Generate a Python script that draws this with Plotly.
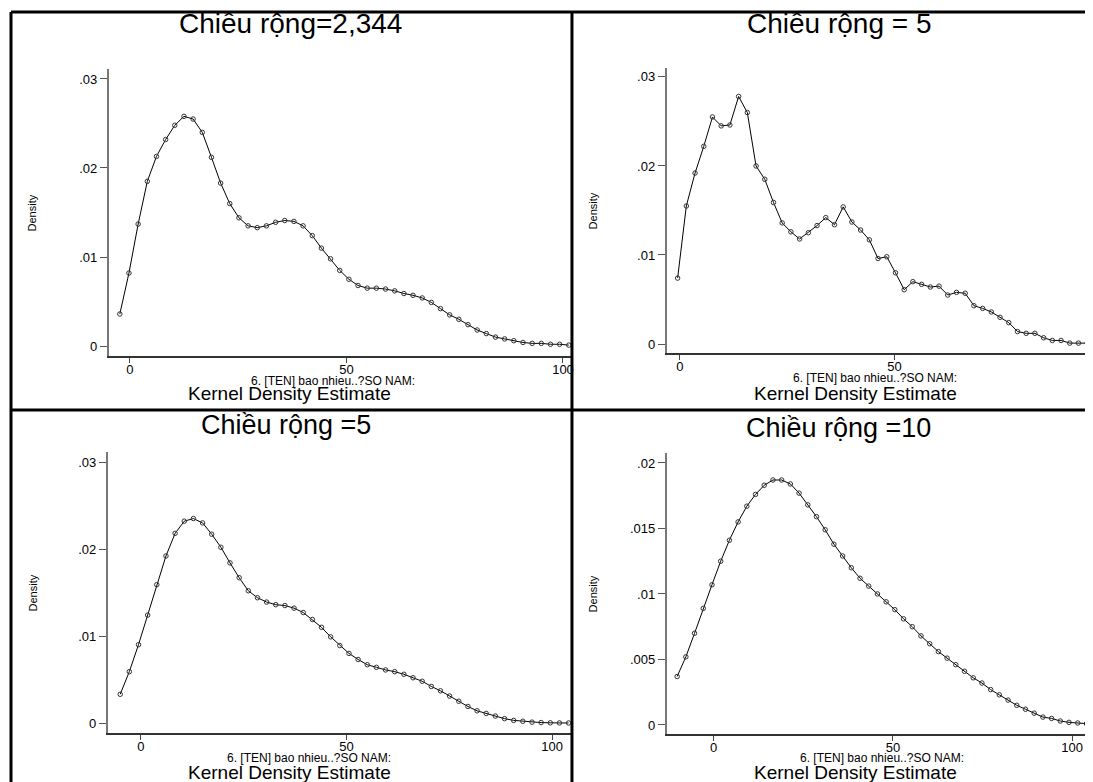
import plotly.graph_objects as go

W, H = 1093, 782
OFF = 8  # page body margin offset

# ---------------- data ----------------
x1 = [-2.3, -0.19, 1.93, 4.05, 6.16, 8.28, 10.39, 12.51, 14.62, 16.74, 18.85, 20.97, 23.08, 25.2,
      27.31, 29.43, 31.54, 33.66, 35.77, 37.89, 40.0, 42.12, 44.23, 46.35, 48.46, 50.58, 52.69,
      54.81, 56.92, 59.04, 61.15, 63.27, 65.38, 67.5, 69.61, 71.73, 73.84, 75.96, 78.07, 80.19,
      82.3, 84.42, 86.53, 88.65, 90.76, 92.88, 94.99, 97.11, 99.22, 101.34]
y1 = [0.0036, 0.0082, 0.0137, 0.0185, 0.0213, 0.0232, 0.0248, 0.0258, 0.0255, 0.0240,
      0.0212, 0.0183, 0.0160, 0.0144, 0.0135, 0.0133, 0.0135, 0.0139, 0.0141, 0.0140,
      0.0135, 0.0124, 0.0110, 0.0098, 0.0085, 0.0075, 0.0068, 0.0065, 0.0065, 0.0064,
      0.0062, 0.0059, 0.0057, 0.0054, 0.0049, 0.0042, 0.0035, 0.0030, 0.0024, 0.0018,
      0.0014, 0.0010, 0.0008, 0.0006, 0.0004, 0.0003, 0.0003, 0.0002, 0.0002, 0.0001]

x2 = [-0.5, 1.53, 3.56, 5.59, 7.62, 9.65, 11.68, 13.71, 15.74, 17.77, 19.8, 21.83, 23.86, 25.89,
      27.92, 29.95, 31.98, 34.01, 36.04, 38.07, 40.1, 42.13, 44.16, 46.19, 48.22, 50.25, 52.28,
      54.31, 56.34, 58.37, 60.4, 62.43, 64.46, 66.49, 68.52, 70.55, 72.58, 74.61, 76.64, 78.67,
      80.7, 82.73, 84.76, 86.79, 88.82, 90.85, 92.88, 94.91]
y2 = [0.0074, 0.0155, 0.0192, 0.0222, 0.0255, 0.0245, 0.0246, 0.0278, 0.0260, 0.0200,
      0.0185, 0.0159, 0.0136, 0.0126, 0.0118, 0.0125, 0.0133, 0.0142, 0.0134, 0.0154,
      0.0137, 0.0128, 0.0117, 0.0096, 0.0098, 0.0080, 0.0061, 0.0070, 0.0067, 0.0064,
      0.0065, 0.0055, 0.0058, 0.0057, 0.0043, 0.0040, 0.0036, 0.0030, 0.0024, 0.0014,
      0.0012, 0.0012, 0.0007, 0.0004, 0.0004, 0.0001, 0.0001, 0.0001]

x3 = [-5.0, -2.78, -0.55, 1.68, 3.9, 6.13, 8.35, 10.58, 12.8, 15.03, 17.25, 19.48, 21.7, 23.93,
      26.15, 28.38, 30.6, 32.83, 35.05, 37.28, 39.5, 41.73, 43.95, 46.18, 48.4, 50.63, 52.85,
      55.08, 57.3, 59.53, 61.75, 63.98, 66.2, 68.43, 70.65, 72.88, 75.1, 77.33, 79.55, 81.78,
      84.0, 86.23, 88.45, 90.68, 92.9, 95.13, 97.35, 99.58, 101.8, 104.03]
y3 = [0.0033, 0.0059, 0.0090, 0.0124, 0.0159, 0.0192, 0.0218, 0.0232, 0.0235, 0.0230,
      0.0217, 0.0202, 0.0184, 0.0167, 0.0152, 0.0144, 0.0139, 0.0136, 0.0135, 0.0132,
      0.0127, 0.0119, 0.0110, 0.0099, 0.0089, 0.0080, 0.0073, 0.0067, 0.0064, 0.0061,
      0.0059, 0.0056, 0.0052, 0.0048, 0.0042, 0.0037, 0.0031, 0.0025, 0.0019, 0.0014,
      0.0011, 0.0008, 0.0005, 0.0003, 0.0002, 0.0001, 0.00005, 0.00002, 0.00001, 0.0]

x4 = [-10.2, -7.77, -5.34, -2.91, -0.48, 1.95, 4.38, 6.81, 9.24, 11.67, 14.1, 16.53, 18.96,
      21.39, 23.82, 26.25, 28.68, 31.11, 33.54, 35.97, 38.4, 40.83, 43.26, 45.69, 48.12, 50.55,
      52.98, 55.41, 57.84, 60.27, 62.7, 65.13, 67.56, 69.99, 72.42, 74.85, 77.28, 79.71, 82.14,
      84.57, 87.0, 89.43, 91.86, 94.29, 96.72, 99.15, 101.58, 104.01]
y4 = [0.0037, 0.0052, 0.0070, 0.0089, 0.0107, 0.0125, 0.0141, 0.0155, 0.0167, 0.0176,
      0.0183, 0.0187, 0.0187, 0.0184, 0.0177, 0.0168, 0.0159, 0.0149, 0.0138, 0.0129,
      0.0120, 0.0112, 0.0106, 0.0100, 0.0094, 0.0088, 0.0081, 0.0075, 0.0068, 0.0062,
      0.0056, 0.0051, 0.0046, 0.0041, 0.0036, 0.0032, 0.0027, 0.0023, 0.0019, 0.0015,
      0.0012, 0.0009, 0.0006, 0.0005, 0.0003, 0.0002, 0.00015, 0.0001]

titles = ["Chiều rộng=2,344", "Chiều rộng = 5", "Chiều rộng =5", "Chiều rộng =10"]
x_title = "6. [TEN] bao nhieu..?SO NAM:"
y_title = "Density"
caption = "Kernel Density Estimate"

yticks_a = [0, 0.01, 0.02, 0.03]
ytext_a = ["0", ".01", ".02", ".03"]
yticks_b = [0, 0.005, 0.01, 0.015, 0.02]
ytext_b = ["0", ".005", ".01", ".015", ".02"]
xticks = [0, 50, 100]
xtext = ["0", "50", "100"]

# ---------------- layout geometry (reference pixels) ----------------
def px(x):
    return (x - OFF) / W

def py(y):
    return 1 - (y - OFF) / H

FONT = "Arial, Liberation Sans, sans-serif"

panels = [
    dict(x=x1, y=y1, xd=(109, 573), yd=(69, 356), xr=(-4.84, 102.07), yr=(-0.00112, 0.03112),
         yt=(yticks_a, ytext_a), tpos=(291, 23), tsize=28, lab=(334, 381), cap=(290, 394), ylx=33),
    dict(x=x2, y=y2, xd=(668, 1093), yd=(68, 353), xr=(-3.02, 95.8), yr=(-0.00101, 0.0310),
         yt=(yticks_a, ytext_a), tpos=(841, 23), tsize=28, lab=(877, 378), cap=(857, 393), ylx=594),
    dict(x=x3, y=y3, xd=(108, 573), yd=(452, 733), xr=(-8.01, 104.85), yr=(-0.00115, 0.03115),
         yt=(yticks_a, ytext_a), tpos=(287, 425), tsize=27, lab=(310, 758), cap=(290, 772), ylx=33),
    dict(x=x4, y=y4, xd=(668, 1093), yd=(453, 734), xr=(-13.09, 105.29), yr=(-0.00069, 0.02076),
         yt=(yticks_b, ytext_b), tpos=(840, 428), tsize=27, lab=(884, 758), cap=(857, 772), ylx=594),
]

fig = go.Figure()
annotations = []
layout = dict(
    width=W, height=H, margin=dict(l=0, r=0, t=0, b=0),
    paper_bgcolor="white", plot_bgcolor="white", showlegend=False,
    font=dict(family=FONT, color="black"),
)

for i, p in enumerate(panels, start=1):
    sfx = "" if i == 1 else str(i)
    fig.add_trace(go.Scatter(
        x=p["x"], y=p["y"], mode="lines+markers",
        line=dict(color="black", width=1),
        marker=dict(symbol="circle-open", size=4.5, color="#333333", line=dict(width=1)),
        xaxis="x" + sfx, yaxis="y" + sfx, hoverinfo="skip",
    ))
    layout["xaxis" + sfx] = dict(
        domain=[px(p["xd"][0]), px(p["xd"][1])], range=list(p["xr"]),
        anchor="y" + sfx, showline=True, linecolor="#333333", linewidth=1.5,
        showgrid=False, zeroline=False, ticks="outside", ticklen=5, tickcolor="#444444",
        tickwidth=1, tickvals=xticks, ticktext=xtext, ticklabelstandoff=-4,
        tickfont=dict(size=13, color="black", family=FONT), fixedrange=True,
    )
    layout["yaxis" + sfx] = dict(
        domain=[py(p["yd"][1]), py(p["yd"][0])], range=list(p["yr"]),
        anchor="x" + sfx, showline=True, linecolor="#777777", linewidth=2,
        showgrid=False, zeroline=False, ticks="outside", ticklen=7, tickcolor="#555555",
        tickwidth=1, tickvals=p["yt"][0], ticktext=p["yt"][1],
        tickfont=dict(size=13, color="black", family=FONT), fixedrange=True,
    )
    annotations.append(dict(text=titles[i - 1], x=px(p["tpos"][0]), y=py(p["tpos"][1]),
                            xref="paper", yref="paper", showarrow=False,
                            xanchor="center", yanchor="middle",
                            font=dict(size=p["tsize"], family=FONT, color="black")))
    annotations.append(dict(text=x_title, x=px(p["lab"][0]), y=py(p["lab"][1]),
                            xref="paper", yref="paper", showarrow=False,
                            xanchor="center", yanchor="middle",
                            font=dict(size=12, family=FONT, color="black")))
    annotations.append(dict(text=caption, x=px(p["cap"][0]), y=py(p["cap"][1]),
                            xref="paper", yref="paper", showarrow=False,
                            xanchor="center", yanchor="middle",
                            font=dict(size=19, family=FONT, color="black")))
    annotations.append(dict(text=y_title, x=px(p["ylx"]), y=py((p["yd"][0] + p["yd"][1]) / 2),
                            xref="paper", yref="paper", showarrow=False, textangle=-90,
                            xanchor="center", yanchor="middle",
                            font=dict(size=11, family=FONT, color="black")))

shapes = [
    dict(type="line", xref="paper", yref="paper", x0=px(11), x1=px(11), y0=py(12), y1=py(800),
         line=dict(color="black", width=3), layer="above"),
    dict(type="line", xref="paper", yref="paper", x0=px(11), x1=px(1110), y0=py(12), y1=py(12),
         line=dict(color="black", width=3), layer="above"),
    dict(type="line", xref="paper", yref="paper", x0=px(573), x1=px(573), y0=py(12), y1=py(800),
         line=dict(color="black", width=3), layer="above"),
    dict(type="line", xref="paper", yref="paper", x0=px(11), x1=px(1110), y0=py(410), y1=py(410),
         line=dict(color="black", width=3), layer="above"),
]
layout["annotations"] = annotations
layout["shapes"] = shapes
fig.update_layout(**layout)

fig.write_html("out.html")
